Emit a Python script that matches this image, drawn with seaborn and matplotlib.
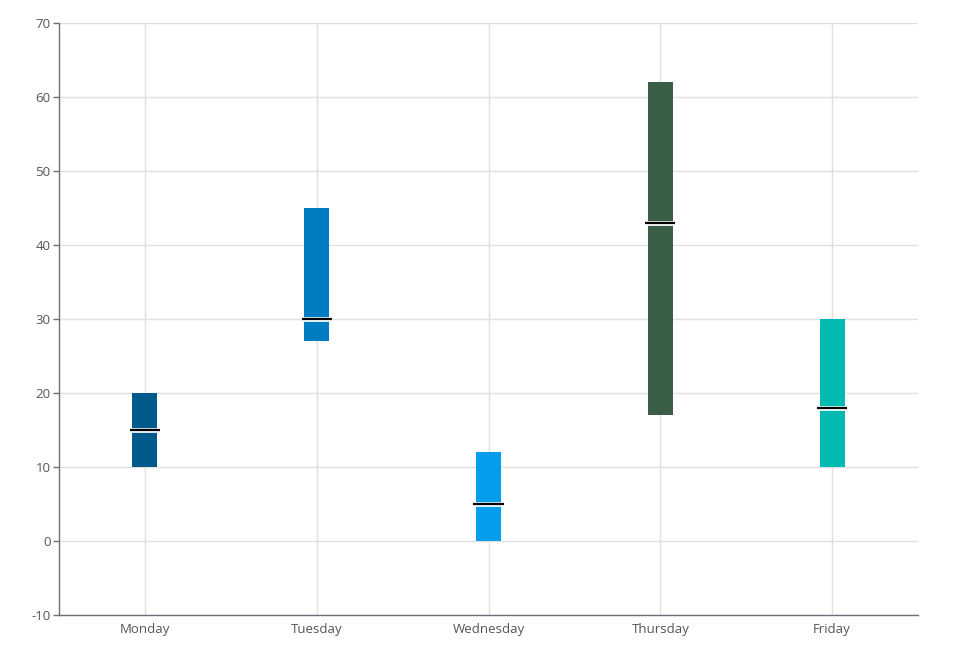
import seaborn as sns
import numpy as np
import matplotlib.pyplot as plt
import matplotlib.patheffects as pe
import pandas as pd

# data
days = ["Monday", "Tuesday", "Wednesday", "Thursday", "Friday"]
low = [10, 27, 0, 17, 10]
high = [20, 45, 12, 62, 30]
median = [15, 30, 5, 43, 18]
colors = ["#005a8c", "#007cc3", "#079ded", "#3a5e45", "#00b9b0"]

df = pd.DataFrame({"day": days, "low": low, "high": high, "median": median})
df["span"] = df["high"] - df["low"]

sns.set_theme(style="white")
plt.rcParams["font.family"] = ["Open Sans", "DejaVu Sans"]
plt.rcParams["axes.unicode_minus"] = False

fig = plt.figure(figsize=(9.56, 6.52), dpi=100)
ax = fig.add_axes([59 / 956, 1 - 615 / 652, (918 - 59) / 956, (615 - 23) / 652])

sns.barplot(data=df, x="day", y="span", bottom=df["low"], width=0.145,
            color=colors[0], ax=ax, zorder=3)
for patch, c in zip(ax.patches, colors):
    patch.set_facecolor(c)
    patch.set_edgecolor("none")

# median markers
ax.hlines(df["median"], np.arange(len(days)) - 0.088, np.arange(len(days)) + 0.088,
          colors="black", linewidth=1.6, zorder=4,
          path_effects=[pe.Stroke(linewidth=3.4, foreground="white"), pe.Normal()])

ax.set_xlim(-0.5, 4.5)
ax.set_ylim(-10, 70)
ax.set_yticks(range(-10, 71, 10))
ax.set_xlabel("")
ax.set_ylabel("")

ax.grid(True, color="#e0e0e0", linewidth=1, zorder=0)
ax.set_axisbelow(True)
for s in ["top", "right"]:
    ax.spines[s].set_visible(False)
for s in ["left", "bottom"]:
    ax.spines[s].set_color("#6e7079")
    ax.spines[s].set_linewidth(1)

ax.tick_params(axis="y", left=True, length=4, width=1, color="#6e7079",
               labelsize=9.5, labelcolor="#555555", pad=2)
ax.tick_params(axis="x", bottom=False, labelsize=9.5, labelcolor="#555555", pad=0)

fig.savefig("out.png", dpi=100)
